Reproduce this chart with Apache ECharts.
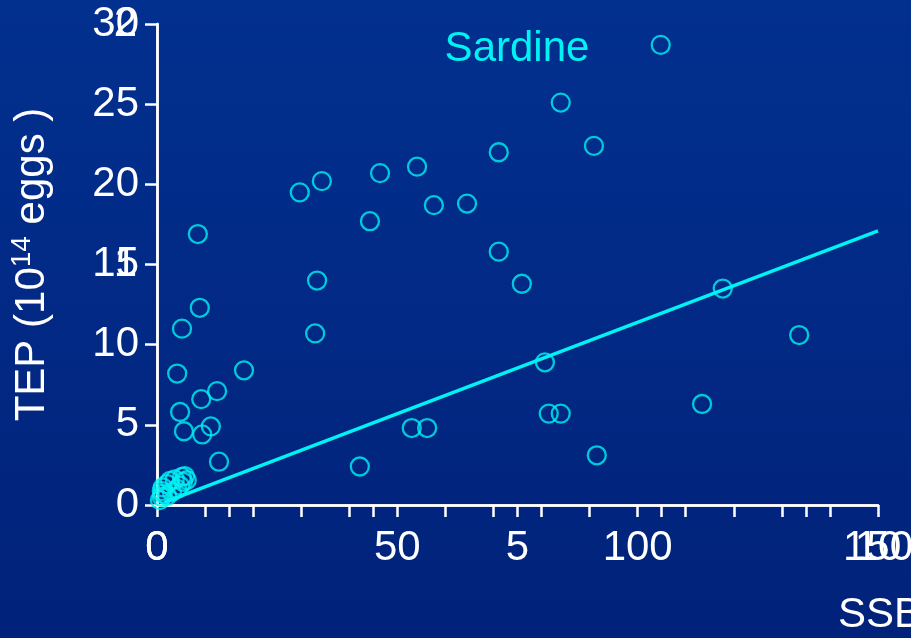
<!DOCTYPE html>
<html>
<head>
<meta charset="utf-8">
<script src="https://cdn.jsdelivr.net/npm/echarts@6/dist/echarts.min.js"></script>
<style>
html,body{margin:0;padding:0;background:#012a88;}
#chart{width:911px;height:638px;}
</style>
</head>
<body>
<div id="chart"></div>
<script>
// SSB values (x) and TEP values (y)
var ssb = [104.8, 84.0, 90.9, 71.1, 54.1, 46.4, 34.3, 29.7, 57.6, 64.5,
           44.3, 8.5, 71.1, 33.3, 75.9, 117.7, 8.9, 5.2, 32.9, 133.6,
           80.7, 4.2, 18.1, 12.5, 9.2, 4.8, 113.4, 81.5, 84.0, 11.2,
           5.6, 9.4, 53.0, 56.2, 91.5, 12.9, 42.2,
           5.8, 6.2, 5.2, 3.7, 2.7, 2.1, 1.2, 1.0, 1.2, 1.0, 2.1, 3.1, 4.2, 4.8, 5.4, 0.6];
var tep = [28.7, 25.1, 22.4, 22.0, 21.1, 20.7, 20.2, 19.5, 18.7, 18.8,
           17.7, 16.9, 15.8, 14.0, 13.8, 13.5, 12.3, 11.0, 10.7, 10.6,
           8.9, 8.2, 8.4, 7.1, 6.6, 5.8, 6.3, 5.7, 5.7, 4.9,
           4.6, 4.4, 4.8, 4.8, 3.1, 2.7, 2.4,
           1.8, 1.55, 1.75, 1.6, 1.5, 1.3, 1.1, 0.87, 0.7, 0.5, 0.56, 0.8, 1.0, 1.2, 1.45, 0.3];
// fitted line end points
var fitX = [1.5, 150];
var fitY = [0.17, 17.1];
// tick labels
var xMajorLabels = [0, 50, 100, 150];
var xSecondLabels = [0, 5, 10];
var ySecondLabels = [1, 2];

var points = ssb.map(function (x, i) { return [x, tep[i]]; });
var fitLine = fitX.map(function (x, i) { return [x, fitY[i]]; });

var FONT = '"Liberation Sans", Arial, sans-serif';
var CYAN = '#00f2f2';
var WHITE = '#ffffff';

var chart = echarts.init(document.getElementById('chart'), null, {renderer: 'canvas'});

function axisCommon() {
  return {
    axisLine: {show: true, lineStyle: {color: WHITE, width: 2.5}},
    axisTick: {show: true, length: 12, lineStyle: {color: WHITE, width: 2.5}},
    splitLine: {show: false}
  };
}

var xPrimary = Object.assign(axisCommon(), {
  type: 'value', min: 0, max: 150, interval: 10, position: 'bottom', gridIndex: 0,
  axisLabel: {
    color: WHITE, fontSize: 42, fontFamily: FONT, margin: 22,
    showMinLabel: true, showMaxLabel: true, hideOverlap: false,
    formatter: function (v) { return xMajorLabels.indexOf(v) >= 0 ? String(v) : ''; }
  }
});
var xSecond = Object.assign(axisCommon(), {
  type: 'value', min: 0, max: 10, interval: 1, position: 'bottom', offset: 0, gridIndex: 0,
  axisLabel: {
    color: WHITE, fontSize: 42, fontFamily: FONT, margin: 22,
    showMinLabel: true, showMaxLabel: true, hideOverlap: false,
    formatter: function (v) { return xSecondLabels.indexOf(v) >= 0 ? String(v) : ''; }
  }
});
var yPrimary = Object.assign(axisCommon(), {
  type: 'value', min: 0, max: 30, interval: 5, position: 'left', gridIndex: 0,
  axisLabel: {color: WHITE, fontSize: 42, fontFamily: FONT, margin: 18, showMinLabel: true, showMaxLabel: true},
  name: '{a|TEP (10}{s|14}{a| eggs )}',
  nameLocation: 'middle',
  nameGap: 101,
  nameTextStyle: {
    color: WHITE,
    rich: {
      a: {fontSize: 42, fontFamily: FONT, color: WHITE, lineHeight: 48},
      s: {fontSize: 28, fontFamily: FONT, color: WHITE, verticalAlign: 'top', lineHeight: 48, padding: [0, 0, 14, 0]}
    }
  }
});
var ySecond = Object.assign(axisCommon(), {
  type: 'value', min: 0, max: 2, interval: 1, position: 'left', offset: 0, gridIndex: 0,
  axisLabel: {
    color: WHITE, fontSize: 42, fontFamily: FONT, margin: 20, showMinLabel: false, showMaxLabel: true,
    formatter: function (v) { return ySecondLabels.indexOf(v) >= 0 ? String(v) : ''; }
  }
});

chart.setOption({
  backgroundColor: new echarts.graphic.LinearGradient(0, 0, 0, 1, [
    {offset: 0, color: '#02308f'},
    {offset: 1, color: '#01227a'}
  ]),
  animation: false,
  grid: {left: 157, right: 33, top: 24, bottom: 133, containLabel: false, outerBoundsMode: 'none'},
  xAxis: [xPrimary, xSecond],
  yAxis: [yPrimary, ySecond],
  graphic: [
    {type: 'text', x: 517, y: 49, silent: true,
     style: {text: 'Sardine', fill: CYAN, font: '42px "Liberation Sans", Arial, sans-serif', textAlign: 'center', textVerticalAlign: 'middle'}},
    {type: 'text', x: 838, y: 615, silent: true,
     style: {text: 'SSB', fill: WHITE, font: '42px "Liberation Sans", Arial, sans-serif', textAlign: 'left', textVerticalAlign: 'middle'}}
  ],
  series: [
    {
      type: 'scatter', xAxisIndex: 0, yAxisIndex: 0, data: points,
      symbol: 'circle', symbolSize: 18,
      itemStyle: {color: 'rgba(0,0,0,0)', borderColor: CYAN, borderWidth: 2.3},
      z: 3
    },
    {
      type: 'line', xAxisIndex: 0, yAxisIndex: 0, data: fitLine,
      showSymbol: false, symbol: 'none',
      lineStyle: {color: CYAN, width: 3.5},
      z: 2
    }
  ]
});
</script>
</body>
</html>
